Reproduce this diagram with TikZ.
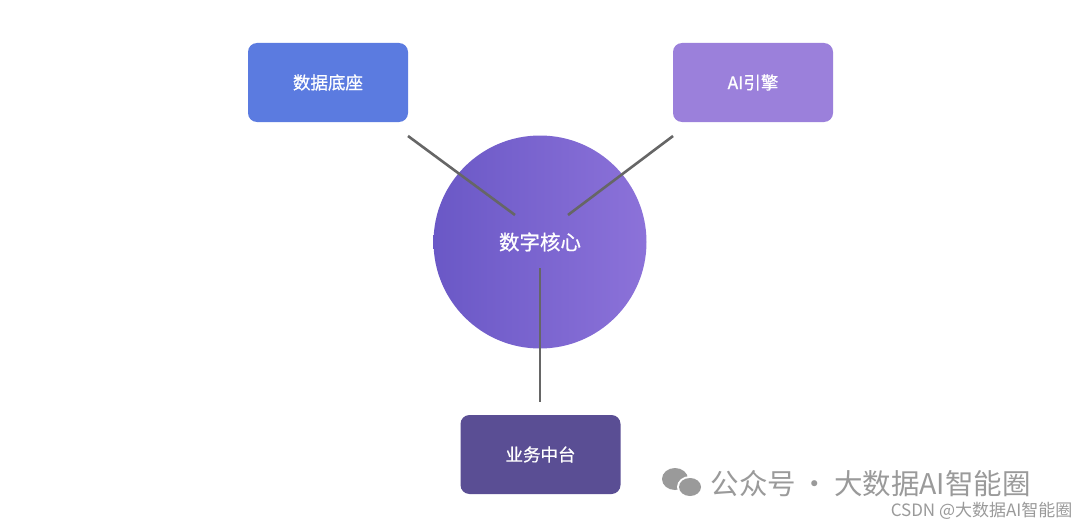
\documentclass[tikz,border=0pt]{standalone}
\usepackage{fontspec}
\newfontfamily\cjk{Noto Sans CJK SC}
\newfontfamily\cjkb[FakeBold=0.8]{Noto Sans CJK SC}
\usetikzlibrary{shapes.geometric}
\definecolor{cA}{HTML}{5B7BE0}
\definecolor{cB}{HTML}{9B80DB}
\definecolor{cC}{HTML}{5A4E94}
\definecolor{gL}{HTML}{6A58C6}
\definecolor{gR}{HTML}{8C72D9}
\definecolor{ln}{HTML}{666666}
\definecolor{wm}{HTML}{9A9A9A}
\tikzset{box/.style={rounded corners=9pt,minimum width=160pt,minimum height=79pt,inner sep=0pt,text=white,font=\cjkb\fontsize{17.5}{20}\selectfont},
conn/.style={draw=ln,line width=2.6pt}}
\begin{document}
\begin{tikzpicture}[x=1pt,y=-1pt]
\useasboundingbox[fill=white] (0,0) rectangle (1080,527);
\node[box,fill=cA] (a) at (328,82.5) {数据底座};
\node[box,fill=cB] (b) at (753,82.5) {AI引擎};
\node[box,fill=cC] (c) at (540.5,454.5) {业务中台};
\shade[left color=gL,right color=gR] (540,242) circle (106.5pt);
\node[text=white,font=\cjkb\fontsize{20.5}{24}\selectfont] (k) at (540,242) {数字核心};
\coordinate (a1) at (408,136); \coordinate (a2) at (515,215);
\coordinate (b1) at (673,136); \coordinate (b2) at (568,215);
\coordinate (c1) at (540,268); \coordinate (c2) at (540,402);
\draw[conn] (a1) -- (a2);
\draw[conn] (b1) -- (b2);
\draw[conn] (c1) -- (c2);
\fill[wm] (675,479) ellipse (13pt and 11pt);
\fill[white] (690,487) ellipse (13pt and 11pt);
\fill[wm] (690,487) ellipse (11pt and 9pt);
\node[anchor=west,text=wm,font=\cjk\fontsize{28.5}{30}\selectfont] (w) at (707,484) {公众号\,·\,大数据AI智能圈};
\node[anchor=east,text=wm,font=\cjk\fontsize{17}{20}\selectfont] (cs) at (1076,511) {CSDN @大数据AI智能圈};
\end{tikzpicture}
\end{document}
